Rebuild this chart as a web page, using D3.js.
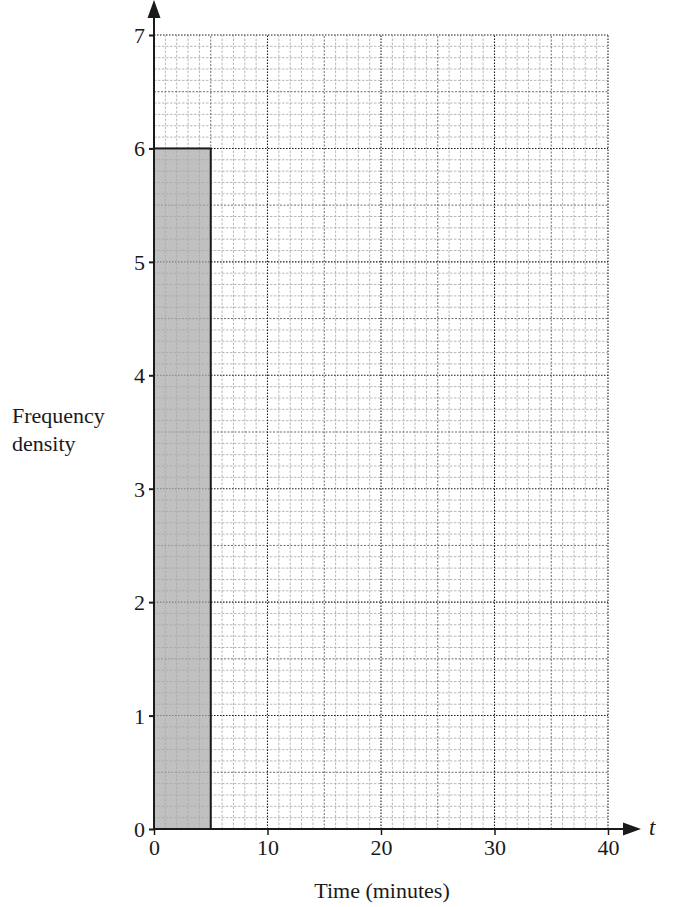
<!DOCTYPE html>
<html>
<head>
<meta charset="utf-8">
<script src="https://cdn.jsdelivr.net/npm/d3@7"></script>
<style>
  html, body { margin: 0; padding: 0; background: #fff; }
  svg { display: block; }
  svg text { font-family: "Liberation Serif", "Times New Roman", Times, "DejaVu Serif", serif; }
</style>
</head>
<body>
<div id="chart"></div>
<script>
// histogram bars: [start, end, frequency density]
const barStarts = [0];
const barEnds = [5];
const barDensity = [6];
const xTicks = [0, 10, 20, 30, 40];
const yTicks = [0, 1, 2, 3, 4, 5, 6, 7];

const width = 674, height = 907;
const FONT = "'Liberation Serif', 'Times New Roman', Times, 'DejaVu Serif', serif";
const x = d3.scaleLinear().domain([0, 40]).range([154, 608]);
const y = d3.scaleLinear().domain([0, 7]).range([829, 35]);

const svg = d3.select("#chart").append("svg")
  .attr("width", width).attr("height", height)
  .attr("font-family", FONT);

// grid: minor every 1 min / 0.1, medium 5 / 0.5, major 10 / 1
const grid = svg.append("g");
const xs = d3.range(1, 41), ys = d3.range(1, 71).map(d => d / 10);
function lvlX(v) { return v % 10 === 0 ? 2 : v % 5 === 0 ? 1 : 0; }
function lvlY(v) { const k = Math.round(v * 10); return k % 10 === 0 ? 2 : k % 5 === 0 ? 1 : 0; }
const styles = [
  { stroke: "#a6a6a6", dash: "2.5,1.5", w: 0.8 },
  { stroke: "#5e5e5e", dash: "2,1.5", w: 0.9 },
  { stroke: "#1a1a1a", dash: "1.5,1.5", w: 1.1 }
];
[0, 1, 2].forEach(l => {
  const s = styles[l];
  grid.append("g").selectAll("line").data(xs.filter(v => lvlX(v) === l)).join("line")
    .attr("x1", d => x(d)).attr("x2", d => x(d)).attr("y1", y(0)).attr("y2", y(7))
    .attr("stroke", s.stroke).attr("stroke-dasharray", s.dash).attr("stroke-width", s.w);
  grid.append("g").selectAll("line").data(ys.filter(v => lvlY(v) === l)).join("line")
    .attr("y1", d => y(d)).attr("y2", d => y(d)).attr("x1", x(0)).attr("x2", x(40))
    .attr("stroke", s.stroke).attr("stroke-dasharray", s.dash).attr("stroke-width", s.w);
});

// bars
svg.append("g").selectAll("rect").data(barStarts).join("rect")
  .attr("x", (d, i) => x(d))
  .attr("y", (d, i) => y(barDensity[i]))
  .attr("width", (d, i) => x(barEnds[i]) - x(d))
  .attr("height", (d, i) => y(0) - y(barDensity[i]))
  .attr("fill", "#a8a8a8").attr("fill-opacity", 0.72)
  .attr("stroke", "#1a1a1a").attr("stroke-width", 2);

// axes
const ax = svg.append("g").attr("stroke", "#1a1a1a").attr("stroke-width", 2);
ax.append("line").attr("x1", x(0)).attr("x2", 628).attr("y1", y(0)).attr("y2", y(0));
ax.append("line").attr("x1", x(0)).attr("x2", x(0)).attr("y1", y(0)).attr("y2", 16);
svg.append("path").attr("d", `M${x(0)},0 L${x(0) - 6.5},18 L${x(0) + 6.5},18 Z`).attr("fill", "#1a1a1a");
svg.append("path").attr("d", `M641,${y(0)} L623,${y(0) - 6.5} L623,${y(0) + 6.5} Z`).attr("fill", "#1a1a1a");

const yAxis = d3.axisLeft(y).tickValues(yTicks).tickSize(5).tickPadding(4).tickFormat(d3.format("d"));
const gy = svg.append("g").attr("transform", `translate(${x(0)},0)`).call(yAxis);
gy.attr("font-family", FONT);
gy.select(".domain").remove();
gy.selectAll("line").attr("stroke", "#1a1a1a").attr("stroke-width", 2);
gy.selectAll("text").attr("font-size", 22).attr("fill", "#1a1a1a").attr("dy", "0.34em");

const xAxis = d3.axisBottom(x).tickValues(xTicks).tickSize(6).tickPadding(4).tickFormat(d3.format("d"));
const gx = svg.append("g").attr("transform", `translate(0,${y(0)})`).call(xAxis);
gx.attr("font-family", FONT);
gx.select(".domain").remove();
gx.selectAll("line").attr("stroke", "#1a1a1a").attr("stroke-width", 1.5);
gx.selectAll("text").attr("font-size", 22).attr("fill", "#1a1a1a").attr("dy", "0.71em");

// labels
svg.append("text").attr("x", 12).attr("y", 423).attr("font-size", 22).attr("fill", "#1a1a1a").text("Frequency");
svg.append("text").attr("x", 12).attr("y", 451).attr("font-size", 22).attr("fill", "#1a1a1a").text("density");
svg.append("text").attr("x", 382).attr("y", 898).attr("text-anchor", "middle").attr("font-size", 22)
  .attr("fill", "#1a1a1a").text("Time (minutes)");
svg.append("text").attr("x", 649).attr("y", 835).attr("font-size", 23).attr("font-style", "italic")
  .attr("fill", "#1a1a1a").text("t");
</script>
</body>
</html>
